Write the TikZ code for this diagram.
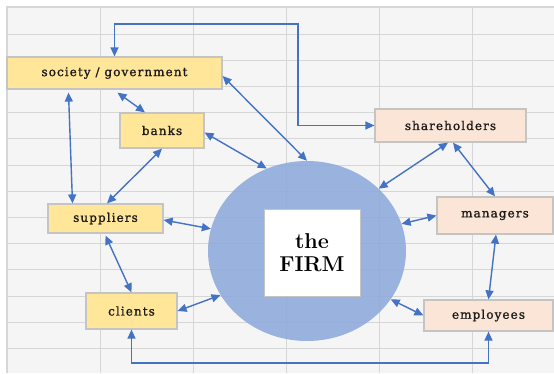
\documentclass[tikz,border=0pt]{standalone}
\usepackage{fontspec}
\newfontfamily\boxfont[LetterSpace=9,FakeBold=1.2]{DejaVu Serif}
\usetikzlibrary{shapes.geometric,arrows.meta,calc}
\definecolor{arrowblue}{HTML}{4472C4}
\definecolor{cellbg}{HTML}{F5F5F5}
\definecolor{gridc}{HTML}{D6D6D6}
\definecolor{ybox}{HTML}{FFE699}
\definecolor{pbox}{HTML}{FBE5D6}
\definecolor{boxline}{HTML}{C4C4C4}
\definecolor{firmfill}{HTML}{8EA9DB}
\definecolor{textc}{HTML}{1A1A1A}
\tikzset{
  boxbase/.style={draw=boxline, line width=1.2pt, inner sep=0pt, font=\boxfont\fontsize{12}{14}\selectfont, text=textc},
  yellowbox/.style={boxbase, fill=ybox},
  peachbox/.style={boxbase, fill=pbox},
  link/.style={arrowblue, line width=1.4pt, {Triangle[length=9pt,width=8pt]}-{Triangle[length=9pt,width=8pt]}},
  gridline/.style={gridc, line width=1pt}
}
\begin{document}
\begin{tikzpicture}[x=1pt,y=-1pt]
% background
\fill[white] (0,0) rectangle (554,373);
\useasboundingbox (0,0) rectangle (554,373);
\fill[cellbg] (7,7) rectangle (554,373);
% grid
\foreach \gx in {100,193.2,286.4,379.6,472.8} {\draw[gridline] (\gx,7) -- (\gx,373);}
\foreach \k in {0,...,12} {\draw[gridline] (7,34+26.2*\k) -- (554,34+26.2*\k);}
\draw[gridc, line width=2pt] (7,373) -- (7,7) -- (554,7);
% the firm
\node[ellipse, draw=none, fill=firmfill, fill opacity=0.88, minimum width=198pt, minimum height=180pt, inner sep=0pt] (firm) at (307,251) {};
\node[fill=white, draw=boxline, line width=1pt, minimum width=96pt, minimum height=87pt, inner sep=0pt, align=center, font=\fontsize{21.5}{23}\selectfont\bfseries, text=black] (firmbox) at (312,252.5) {the\\FIRM};
% boxes
\node[yellowbox, minimum width=215pt, minimum height=32pt] (soc) at (114.5,73) {society / government};
\node[yellowbox, minimum width=84pt, minimum height=35pt] (banks) at (162,130.5) {banks};
\node[yellowbox, minimum width=115pt, minimum height=29pt] (sup) at (105.5,218.5) {suppliers};
\node[yellowbox, minimum width=91pt, minimum height=36pt] (cli) at (131.5,311) {clients};
\node[peachbox, minimum width=151pt, minimum height=33pt] (sh) at (450.5,125.5) {shareholders};
\node[peachbox, minimum width=116pt, minimum height=37pt] (man) at (495,215.5) {managers};
\node[peachbox, minimum width=129pt, minimum height=31pt] (emp) at (488.5,315.5) {employees};
% elbow connectors
\coordinate (topturn) at (298,24);
\coordinate (botturn) at (488.5,363);
\draw[link] (soc.north) |- (topturn) |- (sh.west);
\draw[link] (cli.south) |- (botturn) -- (emp.south);
% straight connectors
\draw[link] ([yshift=-3pt]soc.east) -- (firm.90);
\draw[link] ([xshift=3pt,yshift=-3pt]soc.south) -- ([xshift=-17pt]banks.north);
\draw[link] ([xshift=-46pt,yshift=-3pt]soc.south) -- ([xshift=-33pt]sup.north);
\draw[link] (banks.south) -- ([xshift=1.5pt]sup.north);
\draw[link] ([yshift=-2pt]banks.east) -- (firm.116.6);
\draw[link] ([yshift=-1.5pt]sup.east) -- (firm.167.5);
\draw[link] ([yshift=-2pt]sup.south) -- (cli.north);
\draw[link] (cli.east) -- (firm.207);
\draw[link] ([xshift=-2.5pt]sh.south) -- (firm.41.6);
\draw[link] ([xshift=2.5pt]sh.south) -- (man.north);
\draw[link] (man.west) -- (firm.16.8);
\draw[link] ([xshift=1pt]man.south) -- (emp.north);
\draw[link] (emp.west) -- (firm.-30);
\end{tikzpicture}
\end{document}
